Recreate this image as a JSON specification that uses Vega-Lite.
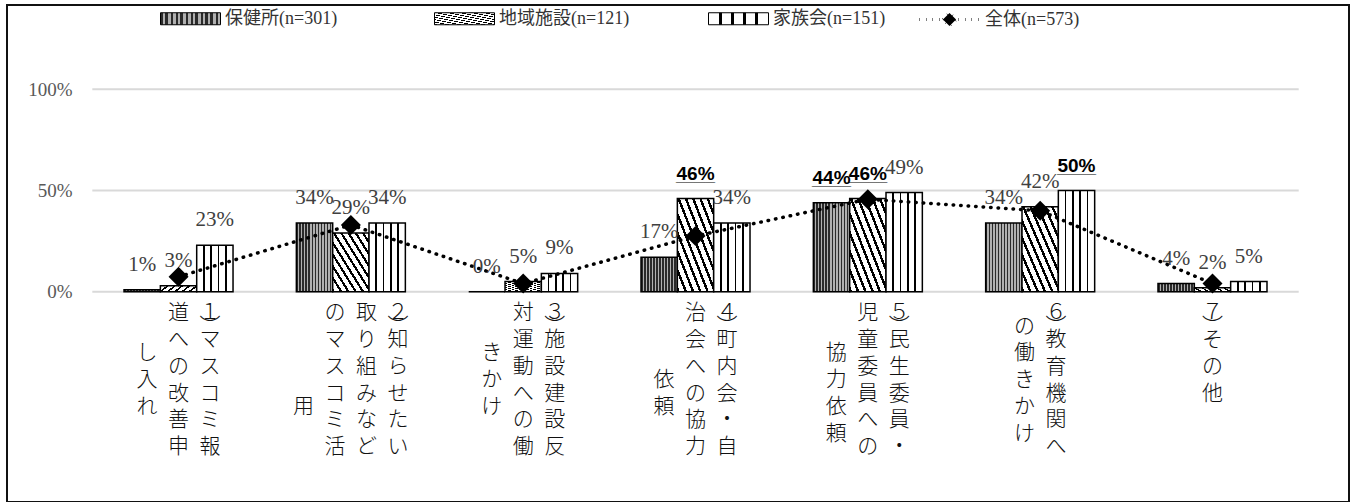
{
  "$schema": "https://vega.github.io/schema/vega-lite/v6.json",
  "width": 1342,
  "height": 497,
  "autosize": {"type": "none"},
  "padding": {"left": 7, "top": 5, "right": 11, "bottom": 0},
  "background": "white",
  "config": {"view": {"stroke": "#111111", "strokeWidth": 2}},
  "datasets": {
    "bars": [
      {"cat": "1)マスコミ報道への改善申し入れ", "group": "保健所(n=301)", "value": 0.01},
      {"cat": "1)マスコミ報道への改善申し入れ", "group": "地域施設(n=121)", "value": 0.03},
      {"cat": "1)マスコミ報道への改善申し入れ", "group": "家族会(n=151)", "value": 0.23},
      {"cat": "2)知らせたい取り組みなどのマスコミ活用", "group": "保健所(n=301)", "value": 0.34},
      {"cat": "2)知らせたい取り組みなどのマスコミ活用", "group": "地域施設(n=121)", "value": 0.29},
      {"cat": "2)知らせたい取り組みなどのマスコミ活用", "group": "家族会(n=151)", "value": 0.34},
      {"cat": "3)施設建設反対運動への働きかけ", "group": "保健所(n=301)", "value": 0.0},
      {"cat": "3)施設建設反対運動への働きかけ", "group": "地域施設(n=121)", "value": 0.05},
      {"cat": "3)施設建設反対運動への働きかけ", "group": "家族会(n=151)", "value": 0.09},
      {"cat": "4)町内会・自治会への協力依頼", "group": "保健所(n=301)", "value": 0.17},
      {"cat": "4)町内会・自治会への協力依頼", "group": "地域施設(n=121)", "value": 0.46},
      {"cat": "4)町内会・自治会への協力依頼", "group": "家族会(n=151)", "value": 0.34},
      {"cat": "5)民生委員・児童委員への協力依頼", "group": "保健所(n=301)", "value": 0.44},
      {"cat": "5)民生委員・児童委員への協力依頼", "group": "地域施設(n=121)", "value": 0.46},
      {"cat": "5)民生委員・児童委員への協力依頼", "group": "家族会(n=151)", "value": 0.49},
      {"cat": "6)教育機関への働きかけ", "group": "保健所(n=301)", "value": 0.34},
      {"cat": "6)教育機関への働きかけ", "group": "地域施設(n=121)", "value": 0.42},
      {"cat": "6)教育機関への働きかけ", "group": "家族会(n=151)", "value": 0.50},
      {"cat": "7)その他", "group": "保健所(n=301)", "value": 0.04},
      {"cat": "7)その他", "group": "地域施設(n=121)", "value": 0.02},
      {"cat": "7)その他", "group": "家族会(n=151)", "value": 0.05}
    ],
    "total": [
      {"cat": "1)マスコミ報道への改善申し入れ", "value": 0.074},
      {"cat": "2)知らせたい取り組みなどのマスコミ活用", "value": 0.33},
      {"cat": "3)施設建設反対運動への働きかけ", "value": 0.04},
      {"cat": "4)町内会・自治会への協力依頼", "value": 0.275},
      {"cat": "5)民生委員・児童委員への協力依頼", "value": 0.457},
      {"cat": "6)教育機関への働きかけ", "value": 0.40},
      {"cat": "7)その他", "value": 0.04}
    ],
    "grid": [{"g": 0}, {"g": 0.5}, {"g": 1}]
  },
  "layer": [
    {
      "data": {"name": "grid"},
      "mark": {"type": "rule", "color": "#d9d9d9", "strokeWidth": 2},
      "encoding": {
        "x": {"datum": "1)マスコミ報道への改善申し入れ", "type": "nominal", "bandPosition": -0.291},
        "x2": {"datum": "7)その他", "bandPosition": 1.291},
        "y": {"field": "g", "type": "quantitative"}
      }
    },
    {
      "data": {"name": "bars"},
      "mark": {"type": "bar", "stroke": "black", "strokeWidth": 1.5},
      "encoding": {
        "x": {
          "field": "cat", "type": "nominal",
          "scale": {
            "domain": ["1)マスコミ報道への改善申し入れ", "2)知らせたい取り組みなどのマスコミ活用", "3)施設建設反対運動への働きかけ", "4)町内会・自治会への協力依頼", "5)民生委員・児童委員への協力依頼", "6)教育機関への働きかけ", "7)その他"],
            "paddingInner": 0.3675, "paddingOuter": 0.5775, "align": 0.588
          },
          "axis": {
            "orient": "bottom", "offset": -210.3, "title": null, "domain": false, "ticks": false, "tickSize": 0,
            "labelAngle": 0, "labelAlign": "center", "labelBaseline": "top", "labelPadding": 10,
            "labelFont": "Noto Sans CJK JP", "labelFontWeight": 300, "labelFontSize": 21, "labelLineHeight": 13.4,
            "labelColor": "#111111", "labelOverlap": false, "labelBound": false, "labelFlush": false, "labelLimit": 0,
            "labelExpr": "[['\u200b\u3000\u2002道\u2002１\u200b','\u200b\u3000\u2002\u3000\u2002︶\u200b','\u200b\u3000\u2002へ\u2002マ\u200b','\u200bし\u2002\u3000\u2002\u3000\u200b','\u200b\u3000\u2002の\u2002ス\u200b','\u200b入\u2002\u3000\u2002\u3000\u200b','\u200b\u3000\u2002改\u2002コ\u200b','\u200bれ\u2002\u3000\u2002\u3000\u200b','\u200b\u3000\u2002善\u2002ミ\u200b','\u200b','\u200b\u3000\u2002申\u2002報\u200b'],['\u200b\u3000\u2002の\u2002取\u2002２\u200b','\u200b\u3000\u2002\u3000\u2002\u3000\u2002︶\u200b','\u200b\u3000\u2002マ\u2002り\u2002知\u200b','\u200b','\u200b\u3000\u2002ス\u2002組\u2002ら\u200b','\u200b','\u200b\u3000\u2002コ\u2002み\u2002せ\u200b','\u200b用\u2002\u3000\u2002\u3000\u2002\u3000\u200b','\u200b\u3000\u2002ミ\u2002な\u2002た\u200b','\u200b','\u200b\u3000\u2002活\u2002ど\u2002い\u200b'],['\u200b\u3000\u2002対\u2002３\u200b','\u200b\u3000\u2002\u3000\u2002︶\u200b','\u200b\u3000\u2002運\u2002施\u200b','\u200bき\u2002\u3000\u2002\u3000\u200b','\u200b\u3000\u2002動\u2002設\u200b','\u200bか\u2002\u3000\u2002\u3000\u200b','\u200b\u3000\u2002へ\u2002建\u200b','\u200bけ\u2002\u3000\u2002\u3000\u200b','\u200b\u3000\u2002の\u2002設\u200b','\u200b','\u200b\u3000\u2002働\u2002反\u200b'],['\u200b\u3000\u2002治\u2002４\u200b','\u200b\u3000\u2002\u3000\u2002︶\u200b','\u200b\u3000\u2002会\u2002町\u200b','\u200b','\u200b\u3000\u2002へ\u2002内\u200b','\u200b依\u2002\u3000\u2002\u3000\u200b','\u200b\u3000\u2002の\u2002会\u200b','\u200b頼\u2002\u3000\u2002\u3000\u200b','\u200b\u3000\u2002協\u2002・\u200b','\u200b','\u200b\u3000\u2002力\u2002自\u200b'],['\u200b\u3000\u2002児\u2002５\u200b','\u200b\u3000\u2002\u3000\u2002︶\u200b','\u200b\u3000\u2002童\u2002民\u200b','\u200b協\u2002\u3000\u2002\u3000\u200b','\u200b\u3000\u2002委\u2002生\u200b','\u200b力\u2002\u3000\u2002\u3000\u200b','\u200b\u3000\u2002員\u2002委\u200b','\u200b依\u2002\u3000\u2002\u3000\u200b','\u200b\u3000\u2002へ\u2002員\u200b','\u200b頼\u2002\u3000\u2002\u3000\u200b','\u200b\u3000\u2002の\u2002・\u200b'],['\u200b\u3000\u2002６\u200b','\u200bの\u2002︶\u200b','\u200b\u3000\u2002教\u200b','\u200b働\u2002\u3000\u200b','\u200b\u3000\u2002育\u200b','\u200bき\u2002\u3000\u200b','\u200b\u3000\u2002機\u200b','\u200bか\u2002\u3000\u200b','\u200b\u3000\u2002関\u200b','\u200bけ\u2002\u3000\u200b','\u200b\u3000\u2002へ\u200b'],['７','︶','そ','\u200b','の','\u200b','他']][toNumber(substring(datum.value,0,1))-1]"
          }
        },
        "xOffset": {
          "field": "group", "type": "nominal",
          "scale": {"domain": ["保健所(n=301)", "地域施設(n=121)", "家族会(n=151)"], "paddingInner": 0, "paddingOuter": 0}
        },
        "y": {
          "field": "value", "type": "quantitative",
          "scale": {"domain": [-1.039, 1.4165], "nice": false, "zero": false},
          "axis": {
            "orient": "left", "offset": -65, "title": null, "values": [0, 0.5, 1], "format": ".0%",
            "grid": false, "domain": false, "ticks": false, "tickSize": 0, "labelPadding": 0,
            "labelFont": "Liberation Serif", "labelFontSize": 19, "labelColor": "#595959"
          }
        },
        "fill": {
          "field": "group", "type": "nominal",
          "scale": {
            "domain": ["保健所(n=301)", "地域施設(n=121)", "家族会(n=151)"],
            "range": [
              {"expr": "{gradient: 'linear', x1: 0, y1: 0, x2: 1, y2: 0, stops: [{offset: 0, color: '#2a2a2a'}, {offset: 0.0417, color: '#2a2a2a'}, {offset: 0.0417, color: '#b0b0b0'}, {offset: 0.0833, color: '#b0b0b0'}, {offset: 0.0833, color: '#2a2a2a'}, {offset: 0.125, color: '#2a2a2a'}, {offset: 0.125, color: '#b0b0b0'}, {offset: 0.1667, color: '#b0b0b0'}, {offset: 0.1667, color: '#2a2a2a'}, {offset: 0.2083, color: '#2a2a2a'}, {offset: 0.2083, color: '#b0b0b0'}, {offset: 0.25, color: '#b0b0b0'}, {offset: 0.25, color: '#2a2a2a'}, {offset: 0.2917, color: '#2a2a2a'}, {offset: 0.2917, color: '#b0b0b0'}, {offset: 0.3333, color: '#b0b0b0'}, {offset: 0.3333, color: '#2a2a2a'}, {offset: 0.375, color: '#2a2a2a'}, {offset: 0.375, color: '#b0b0b0'}, {offset: 0.4167, color: '#b0b0b0'}, {offset: 0.4167, color: '#2a2a2a'}, {offset: 0.4583, color: '#2a2a2a'}, {offset: 0.4583, color: '#b0b0b0'}, {offset: 0.5, color: '#b0b0b0'}, {offset: 0.5, color: '#2a2a2a'}, {offset: 0.5417, color: '#2a2a2a'}, {offset: 0.5417, color: '#b0b0b0'}, {offset: 0.5833, color: '#b0b0b0'}, {offset: 0.5833, color: '#2a2a2a'}, {offset: 0.625, color: '#2a2a2a'}, {offset: 0.625, color: '#b0b0b0'}, {offset: 0.6667, color: '#b0b0b0'}, {offset: 0.6667, color: '#2a2a2a'}, {offset: 0.7083, color: '#2a2a2a'}, {offset: 0.7083, color: '#b0b0b0'}, {offset: 0.75, color: '#b0b0b0'}, {offset: 0.75, color: '#2a2a2a'}, {offset: 0.7917, color: '#2a2a2a'}, {offset: 0.7917, color: '#b0b0b0'}, {offset: 0.8333, color: '#b0b0b0'}, {offset: 0.8333, color: '#2a2a2a'}, {offset: 0.875, color: '#2a2a2a'}, {offset: 0.875, color: '#b0b0b0'}, {offset: 0.9167, color: '#b0b0b0'}, {offset: 0.9167, color: '#2a2a2a'}, {offset: 0.9583, color: '#2a2a2a'}, {offset: 0.9583, color: '#b0b0b0'}, {offset: 1, color: '#b0b0b0'}]}"},
              {"expr": "{gradient: 'linear', x1: 0, y1: 1, x2: 1, y2: 0, stops: [{offset: 0, color: '#000000'}, {offset: 0.035, color: '#000000'}, {offset: 0.035, color: '#ffffff'}, {offset: 0.1, color: '#ffffff'}, {offset: 0.1, color: '#000000'}, {offset: 0.135, color: '#000000'}, {offset: 0.135, color: '#ffffff'}, {offset: 0.2, color: '#ffffff'}, {offset: 0.2, color: '#000000'}, {offset: 0.235, color: '#000000'}, {offset: 0.235, color: '#ffffff'}, {offset: 0.3, color: '#ffffff'}, {offset: 0.3, color: '#000000'}, {offset: 0.335, color: '#000000'}, {offset: 0.335, color: '#ffffff'}, {offset: 0.4, color: '#ffffff'}, {offset: 0.4, color: '#000000'}, {offset: 0.435, color: '#000000'}, {offset: 0.435, color: '#ffffff'}, {offset: 0.5, color: '#ffffff'}, {offset: 0.5, color: '#000000'}, {offset: 0.535, color: '#000000'}, {offset: 0.535, color: '#ffffff'}, {offset: 0.6, color: '#ffffff'}, {offset: 0.6, color: '#000000'}, {offset: 0.635, color: '#000000'}, {offset: 0.635, color: '#ffffff'}, {offset: 0.7, color: '#ffffff'}, {offset: 0.7, color: '#000000'}, {offset: 0.735, color: '#000000'}, {offset: 0.735, color: '#ffffff'}, {offset: 0.8, color: '#ffffff'}, {offset: 0.8, color: '#000000'}, {offset: 0.835, color: '#000000'}, {offset: 0.835, color: '#ffffff'}, {offset: 0.9, color: '#ffffff'}, {offset: 0.9, color: '#000000'}, {offset: 0.935, color: '#000000'}, {offset: 0.935, color: '#ffffff'}, {offset: 1, color: '#ffffff'}]}"},
              {"expr": "{gradient: 'linear', x1: 0, y1: 0, x2: 1, y2: 0, stops: [{offset: 0, color: '#ffffff'}, {offset: 0.178, color: '#ffffff'}, {offset: 0.178, color: '#000000'}, {offset: 0.222, color: '#000000'}, {offset: 0.222, color: '#ffffff'}, {offset: 0.378, color: '#ffffff'}, {offset: 0.378, color: '#000000'}, {offset: 0.422, color: '#000000'}, {offset: 0.422, color: '#ffffff'}, {offset: 0.578, color: '#ffffff'}, {offset: 0.578, color: '#000000'}, {offset: 0.622, color: '#000000'}, {offset: 0.622, color: '#ffffff'}, {offset: 0.778, color: '#ffffff'}, {offset: 0.778, color: '#000000'}, {offset: 0.822, color: '#000000'}, {offset: 0.822, color: '#ffffff'}, {offset: 1, color: '#ffffff'}]}"}
            ]
          },
          "legend": {
            "orient": "none", "legendX": 153, "legendY": -17, "direction": "horizontal", "title": null,
            "symbolType": "M-1,-0.2H1V0.2H-1Z", "symbolSize": 3600, "symbolStrokeColor": "black", "symbolStrokeWidth": 1,
            "labelFont": "Liberation Serif, Noto Sans CJK JP", "labelFontSize": 18, "labelColor": "#333333",
            "labelOffset": 4, "columnPadding": 76, "gridAlign": "all", "labelLimit": 0
          }
        }
      }
    },
    {
      "data": {"name": "total"},
      "mark": {"type": "line", "strokeDash": [0.5, 7], "strokeCap": "round", "strokeWidth": 3.5},
      "encoding": {
        "x": {"field": "cat", "type": "nominal"},
        "y": {"field": "value", "type": "quantitative"},
        "stroke": {
          "datum": "全体(n=573)", "type": "nominal",
          "scale": {"range": ["black"]},
          "legend": {
            "orient": "none", "legendX": 911, "legendY": -17, "title": null,
            "symbolType": "M-1,0H1M-0.22,0L0,-0.22L0.22,0L0,0.22Z", "symbolSize": 3600,
            "symbolStrokeColor": "black", "symbolFillColor": "black", "symbolStrokeWidth": 3, "symbolDash": [0.5, 6],
            "labelFont": "Liberation Serif, Noto Sans CJK JP", "labelFontSize": 18, "labelColor": "#333333", "labelOffset": 4, "labelLimit": 0
          }
        }
      }
    },
    {
      "data": {"name": "total"},
      "mark": {"type": "point", "shape": "diamond", "filled": true, "size": 400, "color": "black", "opacity": 1},
      "encoding": {
        "x": {"field": "cat", "type": "nominal"},
        "y": {"field": "value", "type": "quantitative"}
      }
    },
    {
      "data": {"name": "bars"},
      "transform": [{"filter": "indexof(['4地域','5保健','5地域','6家族'], substring(datum.cat,0,1) + substring(datum.group,0,2)) < 0"}],
      "mark": {"type": "text", "font": "Liberation Serif", "fontSize": 21, "fill": "#404040", "baseline": "alphabetic", "dy": -19},
      "encoding": {
        "x": {"field": "cat", "type": "nominal"},
        "xOffset": {"field": "group", "type": "nominal"},
        "y": {"field": "value", "type": "quantitative"},
        "text": {"field": "value", "type": "quantitative", "format": ".0%"}
      }
    },
    {
      "data": {"name": "bars"},
      "transform": [{"filter": "indexof(['4地域','5保健','5地域','6家族'], substring(datum.cat,0,1) + substring(datum.group,0,2)) >= 0"}],
      "mark": {"type": "text", "font": "Liberation Sans", "fontWeight": "bold", "fontSize": 19, "fill": "black", "baseline": "alphabetic", "dy": -19},
      "encoding": {
        "x": {"field": "cat", "type": "nominal"},
        "xOffset": {"field": "group", "type": "nominal"},
        "y": {"field": "value", "type": "quantitative"},
        "text": {"field": "value", "type": "quantitative", "format": ".0%"}
      }
    },
    {
      "data": {"name": "bars"},
      "transform": [{"filter": "indexof(['4地域','5保健','5地域','6家族'], substring(datum.cat,0,1) + substring(datum.group,0,2)) >= 0"}],
      "mark": {"type": "text", "font": "Liberation Sans", "fontWeight": "bold", "fontSize": 17.5, "fill": "black", "baseline": "alphabetic", "dy": -18, "text": "____"},
      "encoding": {
        "x": {"field": "cat", "type": "nominal"},
        "xOffset": {"field": "group", "type": "nominal"},
        "y": {"field": "value", "type": "quantitative"}
      }
    }
  ]
}
